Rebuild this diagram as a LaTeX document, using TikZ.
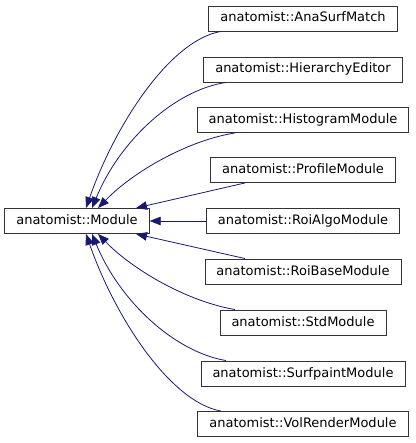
\documentclass[tikz,border=0pt]{standalone}
\usepackage{fontspec}
\setmainfont{DejaVu Sans}
\usetikzlibrary{arrows.meta}

\begin{document}
\begin{tikzpicture}[x=1pt, y=1pt,
  classbox/.style={draw=black!80, line width=0.9pt, fill=white, inner xsep=11.5pt,
    minimum height=25pt, text height=9.6pt, text depth=2.6pt,
    font=\fontsize{13}{15}\selectfont},
  inherit/.style={draw={rgb,255:red,25;green,25;blue,112}, line width=0.8pt,
    -{Triangle[length=11pt, width=8.5pt]}}]
\useasboundingbox (0,0) rectangle (415,-443);

% Base class
\node[classbox] (mod) at (77,-221) {anatomist::Module};

% Derived classes
\node[classbox] (ana)  at (303,-18.5) {anatomist::AnaSurfMatch};
\node[classbox] (hier) at (303,-69.5) {anatomist::HierarchyEditor};
\node[classbox] (hist) at (303,-120)  {anatomist::HistogramModule};
\node[classbox] (prof) at (303,-170)  {anatomist::ProfileModule};
\node[classbox] (ralg) at (303,-221)  {anatomist::RoiAlgoModule};
\node[classbox] (rbas) at (303,-271.5) {anatomist::RoiBaseModule};
\node[classbox] (std)  at (303,-322.5) {anatomist::StdModule};
\node[classbox] (surf) at (303,-373.5) {anatomist::SurfpaintModule};
\node[classbox] (vol)  at (303,-424)  {anatomist::VolRenderModule};

% Inheritance arrows, upper half
\draw[inherit] ([xshift=-82pt]ana.south) .. controls (170,-40) and (115,-125) .. ([xshift=9pt]mod.north);
\draw[inherit] ([xshift=-77pt]hier.south) .. controls (175,-90) and (120,-140) .. ([xshift=15pt]mod.north);
\draw[inherit] ([xshift=-68pt]hist.south) .. controls (190,-140) and (135,-170) .. ([xshift=21pt]mod.north);
\draw[inherit] ([xshift=-58pt]prof.south) -- ([xshift=59pt]mod.north);

% Middle
\draw[inherit] (ralg.west) -- (mod.east);

% Inheritance arrows, lower half
\draw[inherit] ([xshift=-58pt]rbas.north) -- ([xshift=59pt]mod.south);
\draw[inherit] ([xshift=-68pt]std.north) .. controls (190,-302) and (135,-272) .. ([xshift=21pt]mod.south);
\draw[inherit] ([xshift=-77pt]surf.north) .. controls (175,-352) and (120,-302) .. ([xshift=15pt]mod.south);
\draw[inherit] ([xshift=-82pt]vol.north) .. controls (170,-402) and (115,-317) .. ([xshift=9pt]mod.south);

\end{tikzpicture}
\end{document}
